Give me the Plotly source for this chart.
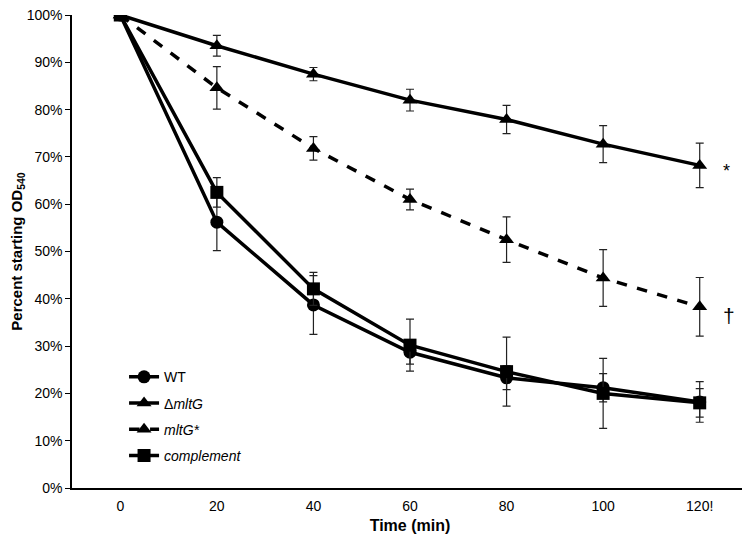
import plotly.graph_objects as go

time_min = [0, 20, 40, 60, 80, 100, 120]
tick_labels = ["0", "20", "40", "60", "80", "100", "120!"]
y_ticks = [0, 10, 20, 30, 40, 50, 60, 70, 80, 90, 100]
y_tick_labels = [f"{v}%" for v in y_ticks]

wt = [100, 56.2, 38.7, 28.7, 23.3, 21.2, 18.2]
wt_err = [0, 6.0, 6.2, 2.5, 2.5, 3.0, 4.3]

dmltg = [100, 93.5, 87.5, 82.0, 77.9, 72.7, 68.2]
dmltg_err = [0, 2.2, 1.4, 2.3, 3.0, 3.9, 4.7]

mltg_star = [100, 84.6, 71.8, 61.0, 52.5, 44.4, 38.3]
mltg_star_err = [0, 4.5, 2.5, 2.2, 4.8, 6.0, 6.2]

complement = [100, 62.5, 42.1, 30.2, 24.6, 20.0, 18.0]
complement_err = [0, 3.1, 3.5, 5.5, 7.3, 7.4, 3.0]

series = [
    ("WT", wt, wt_err, "circle", "solid"),
    ("Δ<i>mltG</i>", dmltg, dmltg_err, "triangle-up", "solid"),
    ("<i>mltG*</i>", mltg_star, mltg_star_err, "triangle-up", "dash"),
    ("<i>complement</i>", complement, complement_err, "square", "solid"),
]

fig = go.Figure()
for name, vals, errs, sym, dash in series:
    fig.add_trace(go.Scatter(
        x=time_min, y=vals, name=name, mode="lines+markers",
        legendgroup=name,
        line=dict(color="black", width=3.5, dash=dash),
        marker=dict(symbol=sym, size=13, color="black"),
        error_y=dict(type="data", array=errs, visible=True,
                     color="#222222", thickness=1.2, width=4),
    ))

fig.add_annotation(x=125.6, y=67.0, text="*", showarrow=False,
                   font=dict(size=18, color="black", family="Liberation Sans"),
                   xanchor="center", yanchor="middle")
fig.add_annotation(x=126.1, y=36.5, text="†", showarrow=False,
                   font=dict(size=21, color="black", family="Liberation Sans"),
                   xanchor="center", yanchor="middle")

fig.update_layout(
    width=750, height=537,
    margin=dict(l=64, r=10, t=7, b=57),
    paper_bgcolor="white", plot_bgcolor="white",
    font=dict(family="Liberation Sans, Arial, sans-serif", size=14, color="black"),
    showlegend=True,
    legend=dict(x=0.077, y=0.268, xanchor="left", yanchor="top",
                bgcolor="rgba(0,0,0,0)", font=dict(size=14),
                traceorder="grouped", tracegroupgap=5),
    xaxis=dict(range=[-10, 130], tickvals=time_min, ticktext=tick_labels,
               showgrid=False, zeroline=False, showline=True, automargin=False,
               linecolor="black", linewidth=1.5, ticks="outside", ticklen=4,
               tickcolor="rgba(0,0,0,0)", ticklabeloverflow="allow",
               title=dict(text="<b>Time (min)</b>", font=dict(size=16), standoff=7)),
    yaxis=dict(range=[0, 100], tickvals=y_ticks, ticktext=y_tick_labels,
               showgrid=False, zeroline=False, showline=True, automargin=False,
               linecolor="black", linewidth=1.5, ticks="outside", ticklen=5,
               tickcolor="black", ticklabeloverflow="allow",
               title=dict(text="<b>Percent starting OD<sub>540</sub></b>",
                          font=dict(size=15), standoff=4)),
)

fig.write_html("out.html")
